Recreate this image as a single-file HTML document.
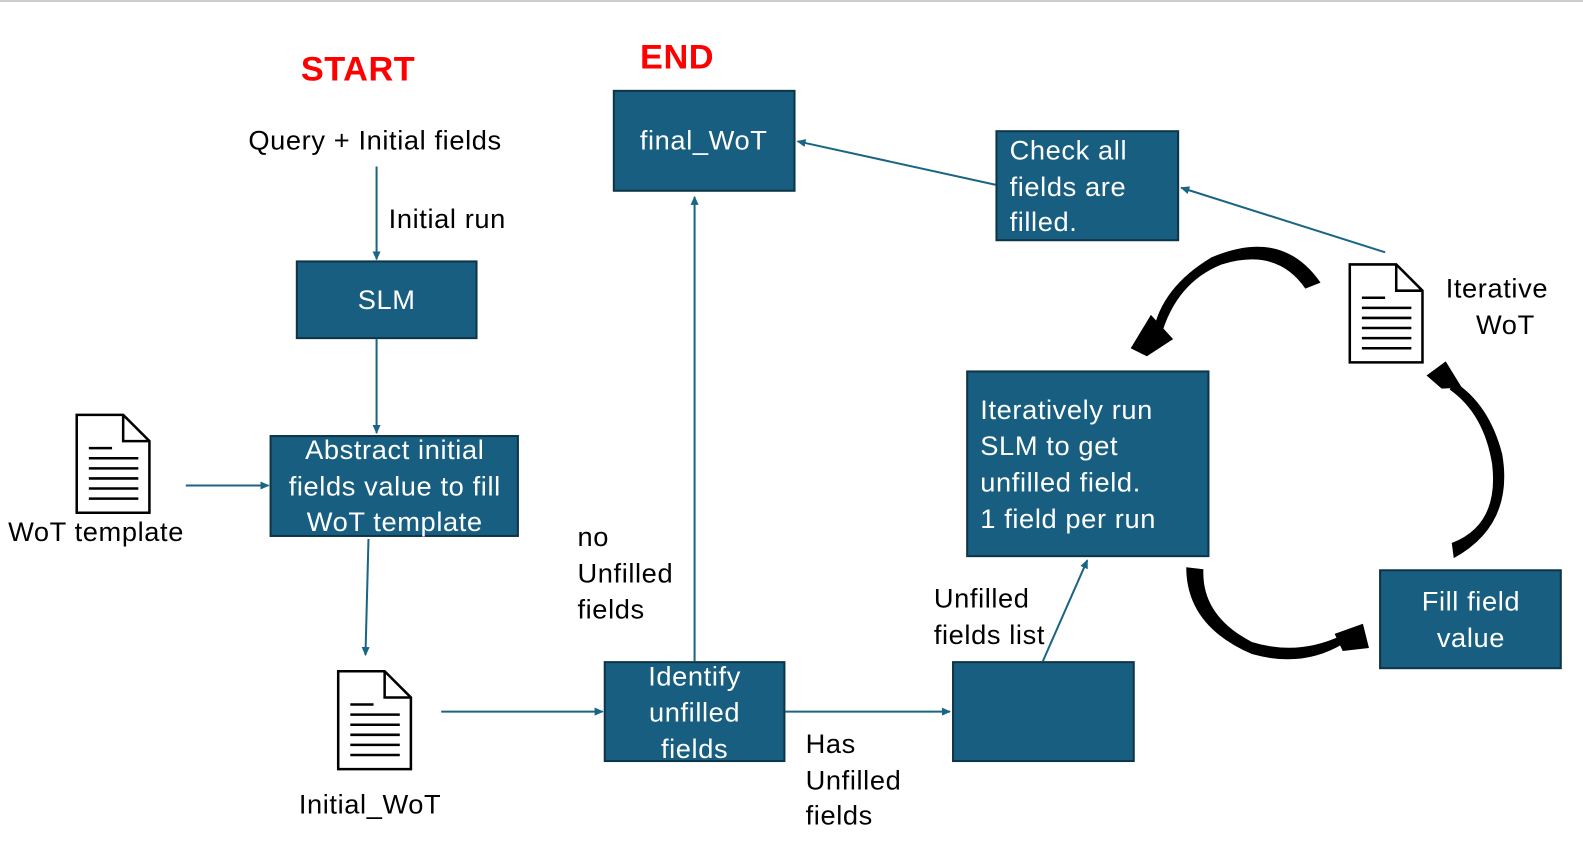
<!DOCTYPE html>
<html><head><meta charset="utf-8"><style>
body{margin:0;background:#fff;width:1583px;height:864px;overflow:hidden}
svg{display:block}
text{font-family:"Liberation Sans",sans-serif;font-size:27px;letter-spacing:0.6px}
.w{fill:#fff}
.b{fill:#000}
rect.box{fill:#175e80;stroke:#0d3447;stroke-width:2}
line.a,path.a{stroke:#1a6585;stroke-width:2;fill:none;marker-end:url(#ah)}
</style></head><body>
<svg width="1583" height="864" viewBox="0 0 1568 856" preserveAspectRatio="none">
<defs>
<marker id="ah" markerWidth="10" markerHeight="10" refX="8" refY="4" orient="auto" markerUnits="userSpaceOnUse"><path d="M0,0 L9,4 L0,8 z" fill="#1a6585"/></marker>
<g id="doc"><path d="M0,0 H46 L72,26 V97 H0 Z" fill="#fff" stroke="#000" stroke-width="2.5"/><path d="M46,0 V26 H72" fill="none" stroke="#000" stroke-width="2.5"/>
<g stroke="#000" stroke-width="2.5"><line x1="12" y1="33" x2="35" y2="33"/><line x1="12" y1="43" x2="61" y2="43"/><line x1="12" y1="53" x2="61" y2="53"/><line x1="12" y1="63" x2="61" y2="63"/><line x1="12" y1="73" x2="61" y2="73"/><line x1="12" y1="83" x2="61" y2="83"/></g></g>
</defs>
<line x1="0" y1="1" x2="1568" y2="1" stroke="#ccc" stroke-width="2"/>
<text x="298" y="80" style="font-size:34px;font-weight:bold;fill:#f00;letter-spacing:0.5px">START</text>
<text x="634" y="68" style="font-size:34px;font-weight:bold;fill:#f00;letter-spacing:0.5px">END</text>
<text x="246" y="148" class="b">Query + Initial fields</text>
<text x="385" y="226" class="b">Initial run</text>

<rect class="box" x="608" y="90" width="179" height="99"/>
<text x="697" y="148" class="w" text-anchor="middle">final_WoT</text>
<rect class="box" x="987" y="130" width="180" height="108"/>
<text x="1000" y="158" class="w">Check all</text><text x="1000" y="194" class="w">fields are</text><text x="1000" y="229" class="w">filled.</text>
<rect class="box" x="294" y="259" width="178" height="76"/>
<text x="383" y="306" class="w" text-anchor="middle">SLM</text>
<rect class="box" x="268" y="432" width="245" height="99"/>
<text x="391" y="455" class="w" text-anchor="middle">Abstract initial</text><text x="391" y="491" class="w" text-anchor="middle">fields value to fill</text><text x="391" y="526" class="w" text-anchor="middle">WoT template</text>
<rect class="box" x="958" y="368" width="239" height="183"/>
<text x="971" y="415" class="w">Iteratively run</text><text x="971" y="451" class="w">SLM to get</text><text x="971" y="487" class="w">unfilled field.</text><text x="971" y="523" class="w">1 field per run</text>
<rect class="box" x="1367" y="565" width="179" height="97"/>
<text x="1457" y="605" class="w" text-anchor="middle">Fill field</text><text x="1457" y="641" class="w" text-anchor="middle">value</text>
<rect class="box" x="599" y="656" width="178" height="98"/>
<text x="688" y="679" class="w" text-anchor="middle">Identify</text><text x="688" y="715" class="w" text-anchor="middle">unfilled</text><text x="688" y="751" class="w" text-anchor="middle">fields</text>
<rect class="box" x="944" y="656" width="179" height="98"/>

<use href="#doc" x="76" y="411"/>
<use href="#doc" x="335" y="665"/>
<use href="#doc" x="1337" y="262"/>
<text x="8" y="536" class="b">WoT template</text>
<text x="296" y="806" class="b">Initial_WoT</text>
<text x="1432" y="295" class="b">Iterative</text><text x="1462" y="331" class="b">WoT</text>
<text x="572" y="541" class="b">no</text><text x="572" y="577" class="b">Unfilled</text><text x="572" y="613" class="b">fields</text>
<text x="925" y="602" class="b">Unfilled</text><text x="925" y="638" class="b">fields list</text>
<text x="798" y="746" class="b">Has</text><text x="798" y="782" class="b">Unfilled</text><text x="798" y="817" class="b">fields</text>

<line class="a" x1="373" y1="165" x2="373" y2="257"/>
<line class="a" x1="373" y1="336" x2="373" y2="429"/>
<line class="a" x1="184" y1="481" x2="266" y2="481"/>
<line class="a" x1="365" y1="534" x2="362" y2="649"/>
<line class="a" x1="437" y1="705" x2="597" y2="705"/>
<line class="a" x1="778" y1="705" x2="941" y2="705"/>
<line class="a" x1="688" y1="655" x2="688" y2="195"/>
<line class="a" x1="986" y1="183" x2="790" y2="140"/>
<line class="a" x1="1372" y1="250" x2="1170" y2="186"/>
<line class="a" x1="1033" y1="655" x2="1077" y2="555"/>

<path d="M1308,280 Q1270,225 1200,255 Q1150,285 1142,330 L1150,333 Q1165,280 1210,262 Q1265,245 1293,286 Z" fill="#000"/>
<path d="M1120,345 L1140,312 L1162,336 L1136,353 Z" fill="#000"/>
<path d="M1175,562 Q1175,620 1240,648 Q1290,662 1330,638 L1328,630 Q1285,650 1240,636 Q1190,610 1192,564 Z" fill="#000"/>
<path d="M1322,628 L1350,618 L1356,642 L1330,645 Z" fill="#000"/>
<path d="M1440,553 Q1500,520 1488,450 Q1475,400 1440,378 L1436,386 Q1470,410 1478,460 Q1485,520 1438,538 Z" fill="#000"/>
<path d="M1413,372 L1432,358 L1448,384 L1428,385 Z" fill="#000"/>
</svg>
</body></html>
